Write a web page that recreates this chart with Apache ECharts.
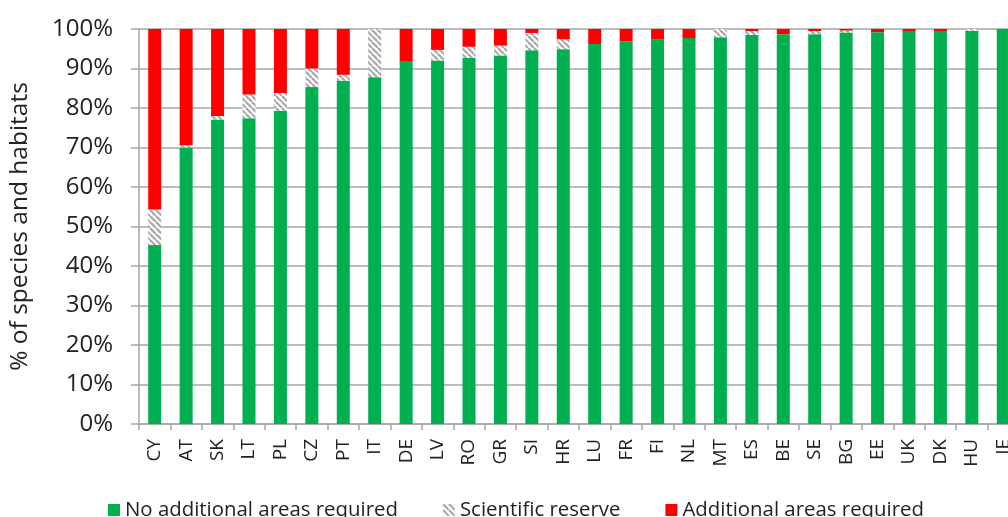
<!DOCTYPE html>
<html>
<head>
<meta charset="utf-8">
<script src="https://cdn.jsdelivr.net/npm/echarts@6/dist/echarts.min.js"></script>
<style>
html,body{margin:0;padding:0;background:#fff;overflow:hidden;width:1008px;height:517px;}
#chart{width:1019px;height:517px;}
</style>
</head>
<body>
<div id="chart"></div>
<script>
const categories = ['CY','AT','SK','LT','PL','CZ','PT','IT','DE','LV','RO','GR','SI','HR','LU','FR','FI','NL','MT','ES','BE','SE','BG','EE','UK','DK','HU','IE'];
const noAdditional = [45.3,70.0,77.1,77.4,79.3,85.3,86.9,87.8,91.7,92.0,92.7,93.3,94.6,94.9,96.2,96.9,97.3,97.7,97.9,98.5,98.7,98.7,99.1,99.2,99.3,99.5,99.5,100];
const scientific = [9.0,0.6,0.9,6.0,4.5,4.7,1.5,12.2,0,2.7,2.8,2.5,4.4,2.5,0,0,0,0,2.1,1.0,0,0.8,0.5,0,0,0,0.5,0];
const additional = [45.7,29.4,22.0,16.6,16.2,10.0,11.6,0,8.3,5.3,4.5,4.2,1.0,2.6,3.8,3.1,2.7,2.3,0,0.5,1.3,0.5,0.4,0.8,0.7,0.5,0,0];
const yTicks = [0,10,20,30,40,50,60,70,80,90,100];
const seriesNames = ['No additional areas required','Scientific reserve','Additional areas required'];

function hatch(){
  const s = 6;
  const c = document.createElement('canvas');
  c.width = s; c.height = s;
  const g = c.getContext('2d');
  g.fillStyle = '#ffffff';
  g.fillRect(0,0,s,s);
  g.strokeStyle = '#a8a8a8';
  g.lineWidth = 2.2;
  for (const x0 of [-s,0,s]) {
    g.beginPath(); g.moveTo(x0,0); g.lineTo(x0+s,s); g.stroke();
  }
  return {image:c, repeat:'repeat'};
}

const font = '"Open Sans", "Noto Sans", sans-serif';
const chart = echarts.init(document.getElementById('chart'), null, {renderer:'canvas', width:1019, height:517});
chart.setOption({
  animation:false,
  backgroundColor:'#ffffff',
  grid:{left:137, top:29, right:0, bottom:93, containLabel:false},
  legend:{
    left:103, top:495, itemWidth:12, itemHeight:12, itemGap:45,
    icon:'rect',
    textStyle:{fontFamily:font, fontSize:20.4, color:'#222'},
    data:seriesNames
  },
  xAxis:{
    type:'category', data:categories, boundaryGap:true,
    axisLine:{lineStyle:{color:'#a6a6a6', width:1.5}},
    axisTick:{show:true, alignWithLabel:false, length:6, lineStyle:{color:'#a6a6a6', width:1.5}},
    axisLabel:{rotate:90, interval:0, margin:15, fontFamily:font, fontSize:19, color:'#222'}
  },
  yAxis:{
    type:'value', min:yTicks[0], max:yTicks[yTicks.length-1], interval:10,
    name:'% of species and habitats', nameLocation:'middle', nameGap:106, nameRotate:90,
    nameTextStyle:{fontFamily:font, fontSize:24.5, color:'#222'},
    axisLine:{show:true, lineStyle:{color:'#a6a6a6', width:1.5}},
    axisTick:{show:true, length:8, lineStyle:{color:'#a6a6a6', width:1.5}},
    splitLine:{show:true, lineStyle:{color:'#a6a6a6', width:1.5}},
    axisLabel:{formatter:'{value}%', margin:26, fontFamily:font, fontSize:24, color:'#222'}
  },
  series:[
    {name:seriesNames[0], type:'bar', stack:'t', data:noAdditional, barWidth:13, itemStyle:{color:'#00b050'}},
    {name:seriesNames[1], type:'bar', stack:'t', data:scientific, barWidth:13, itemStyle:{color:hatch()}},
    {name:seriesNames[2], type:'bar', stack:'t', data:additional, barWidth:13, itemStyle:{color:'#ff0000'}}
  ]
});
</script>
</body>
</html>
